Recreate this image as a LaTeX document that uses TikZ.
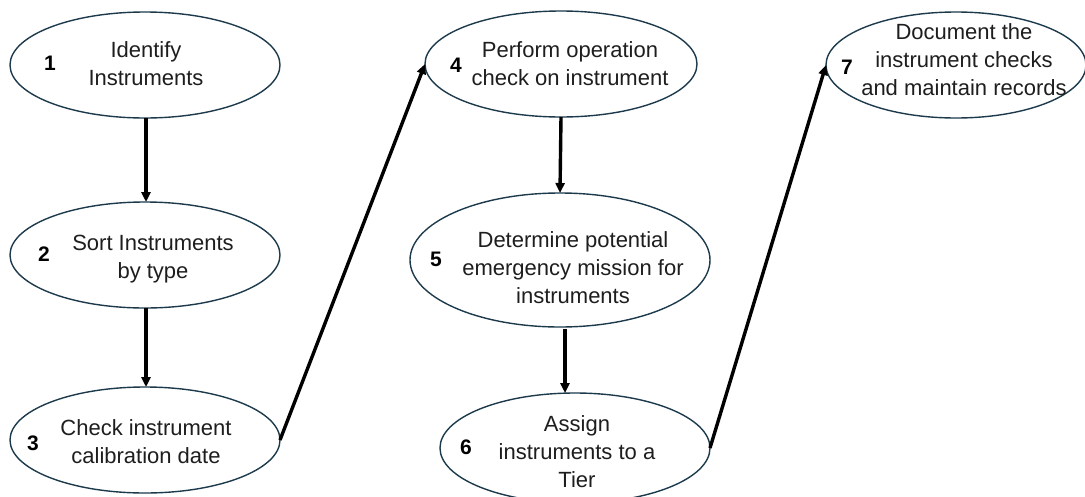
\documentclass[tikz,border=0pt]{standalone}
\usepackage{fontspec}
\setmainfont{Liberation Sans}
\usetikzlibrary{arrows.meta,shapes.geometric,positioning}
\definecolor{rim}{RGB}{28,58,76}
\definecolor{ink}{RGB}{30,30,30}

\begin{document}
\begin{tikzpicture}[
    x = 1pt, y = -1pt, % one unit per pixel, y running down
    > = {Triangle[length=10pt,width=9pt]}, % arrow head style
    line width = 3.4pt % arrow line style
    ]

    \tikzset{
    step box/.style = {
    ellipse,
    draw = rim,
    line width = 1.4pt,
    fill = white,
    inner sep = 0pt,
    outer sep = 0pt,
    minimum width = #1
    },
    step box/.default = 270pt,
    step text/.style = {
    text = ink,
    align = center,
    font = \fontsize{22}{28}\selectfont
    },
    step num/.style = {
    text = black,
    font = \fontsize{21}{22}\selectfont\bfseries
    },
    flow/.style = {->, black}
    }
    \useasboundingbox (0,0) rectangle (1085,496);

    % the seven steps
    \node[step box, minimum height=106pt] (s1) at (145,65) {};
    \node[step box, minimum height=106pt] (s2) at (145,255) {};
    \node[step box, minimum height=106pt] (s3) at (145,440) {};
    \node[step box=272pt, minimum height=106pt] (s4) at (561,64) {};
    \node[step box=300pt, minimum height=134pt] (s5) at (560,260) {};
    \node[step box, minimum height=110pt] (s6) at (575,448) {};
    \node[step box=260pt, minimum height=106pt] (s7) at (956,65) {};

    \node[step text] (t1) at (146,64) {Identify\\Instruments};
    \node[step text] (t2) at (153,259) {Sort Instruments\\by type};
    \node[step text] (t3) at (146,442) {Check instrument\\calibration date};
    \node[step text] (t4) at (570,64) {Perform operation\\check on instrument};
    \node[step text] (t5) at (573,268) {Determine potential\\emergency mission for\\instruments};
    \node[step text] (t6) at (577,452) {Assign\\instruments to a\\Tier};
    \node[step text] (t7) at (964,60) {Document the\\instrument checks\\and maintain records};

    \node[step num] (n1) at (50,63) {1};
    \node[step num] (n2) at (44,254) {2};
    \node[step num] (n3) at (33,443) {3};
    \node[step num] (n4) at (456,65) {4};
    \node[step num] (n5) at (436,259) {5};
    \node[step num] (n6) at (466,447) {6};
    \node[step num] (n7) at (847,67) {7};

    % connectors
    \draw[flow] ([xshift=1pt]s1.south) -- ([xshift=1pt]s2.north);
    \draw[flow] ([xshift=1pt]s2.south) -- ([xshift=1pt]s3.north);
    \draw[flow] (s3.east) -- (s4.west);
    \draw[flow] (s4.south) -- (s5.north);
    \draw[flow] ([xshift=5pt,yshift=-2pt]s5.south) -- ([xshift=-10pt]s6.north);
    \draw[flow] (s6.east) -- (s7.west);
\end{tikzpicture}
\end{document}
